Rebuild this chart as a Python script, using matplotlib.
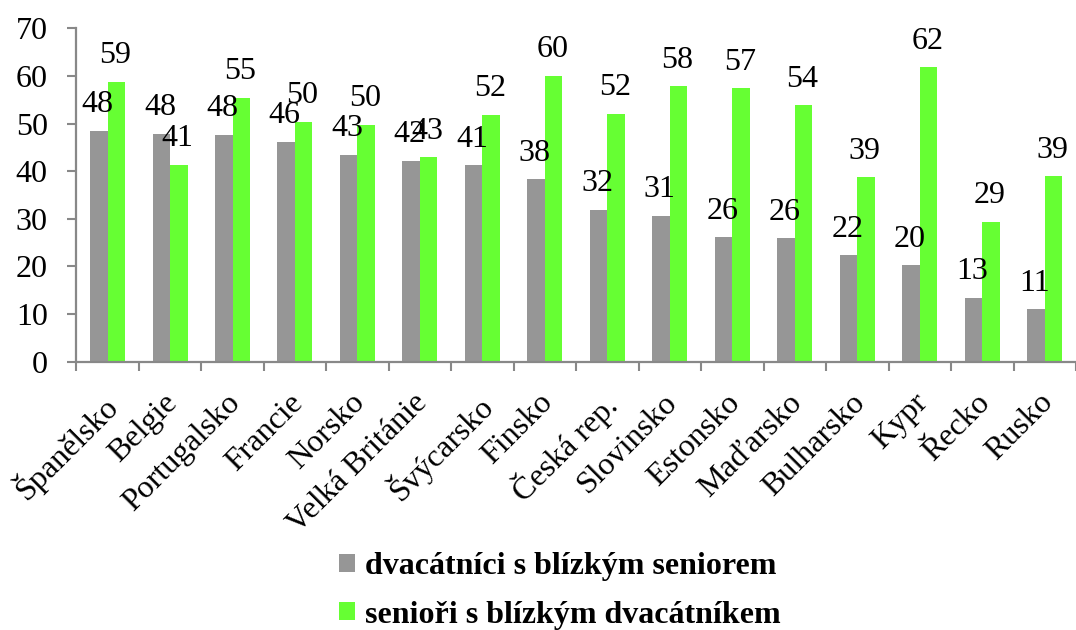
import matplotlib.pyplot as plt
import matplotlib.transforms as mtransforms
import numpy as np

plt.rcParams['font.family'] = ['Liberation Serif', 'DejaVu Serif']

# Data
zeme = ['Španělsko', 'Belgie', 'Portugalsko', 'Francie', 'Norsko', 'Velká Británie',
        'Švýcarsko', 'Finsko', 'Česká rep.', 'Slovinsko', 'Estonsko', 'Maďarsko',
        'Bulharsko', 'Kypr', 'Řecko', 'Rusko']
dvacatnici = [48.4, 47.9, 47.6, 46.2, 43.4, 42.2, 41.2, 38.3, 31.8, 30.6,
              26.1, 25.9, 22.3, 20.2, 13.4, 11.0]
seniori = [58.8, 41.3, 55.4, 50.3, 49.7, 42.9, 51.9, 60.0, 52.1, 57.8,
           57.4, 53.8, 38.7, 61.8, 29.4, 38.9]
legenda = ['dvacátníci s blízkým seniorem', 'senioři s blízkým dvacátníkem']

seda = '#969696'
zelena = '#66ff33'
osa = '#888888'
fs = 23

fig = plt.figure(figsize=(10.76, 6.30), dpi=100)
ax = fig.add_axes([76.3 / 1076, (630 - 361.7) / 630, 1 - 76.3 / 1076, 333.4 / 630])

x = np.arange(len(zeme))
w = 0.28
b1 = ax.bar(x - w / 2, dvacatnici, w, color=seda, label=legenda[0])
b2 = ax.bar(x + w / 2, seniori, w, color=zelena, label=legenda[1])

# Popisky hodnot
for bars, vals in ((b1, dvacatnici), (b2, seniori)):
    for r, v in zip(bars, vals):
        ax.annotate(f'{v:.0f}', (r.get_x() + r.get_width() / 2, v),
                    xytext=(-1, 13.5), textcoords='offset points',
                    ha='center', va='baseline', fontsize=fs)

ax.set_ylim(0, 70)
ax.set_xlim(-0.5, 15.44)
ax.set_yticks(range(0, 71, 10))
ax.tick_params(axis='y', labelsize=fs, length=6.5, width=1.5, color=osa, pad=14)

# kategorie - popisky na stredu skupin, carky na hranicich
ax.set_xticks(x)
ax.set_xticklabels(zeme, rotation=45, ha='right', rotation_mode='anchor', fontsize=fs)
ax.tick_params(axis='x', length=0, pad=19)
posun = mtransforms.ScaledTranslation(-5 / 72, 0, fig.dpi_scale_trans)
for t in ax.get_xticklabels():
    t.set_transform(t.get_transform() + posun)
ax.set_xticks(np.arange(-0.5, 16, 1), minor=True)
ax.tick_params(axis='x', which='minor', length=6.5, width=1.5, color=osa)

for s in ('top', 'right'):
    ax.spines[s].set_visible(False)
for s in ('left', 'bottom'):
    ax.spines[s].set_color(osa)
    ax.spines[s].set_linewidth(1.6)

fig.legend(loc='center', bbox_to_anchor=(560 / 1076, (630 - 591) / 630), ncol=1,
           frameon=False, prop={'weight': 'bold', 'size': fs},
           handlelength=0.5, handleheight=0.5, handletextpad=0.3,
           labelspacing=0.6, borderpad=0)

fig.savefig('out.png', dpi=100)
